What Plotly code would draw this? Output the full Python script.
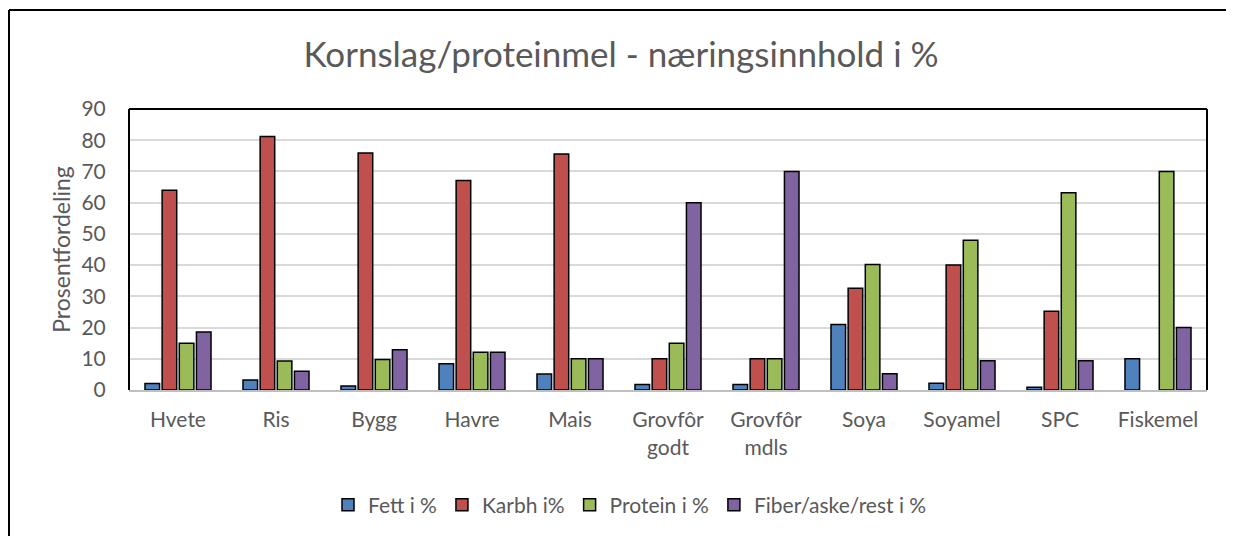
import plotly.graph_objects as go

categories = ["Hvete", "Ris", "Bygg", "Havre", "Mais", "Grovfôr<br>godt", "Grovfôr<br>mdls",
              "Soya", "Soyamel", "SPC", "Fiskemel"]
fett = [2.1, 3.2, 1.3, 8.4, 5.1, 1.8, 1.8, 21.0, 2.2, 0.9, 10.0]
karbh = [64.0, 81.2, 75.9, 67.1, 75.6, 10.0, 10.0, 32.6, 40.0, 25.2, None]
protein = [15.0, 9.3, 9.8, 12.1, 10.0, 15.0, 10.0, 40.2, 48.0, 63.2, 70.0]
fiber = [18.6, 6.0, 12.9, 12.1, 10.0, 60.0, 70.0, 5.2, 9.4, 9.4, 20.0]

series_names = ["Fett i %", "Karbh i%", "Protein i %", "Fiber/aske/rest i %"]
series_values = [fett, karbh, protein, fiber]
colors = ["#4F81BD", "#C0504D", "#9BBB59", "#8064A2"]

FONT = "Lato, Open Sans, sans-serif"
GREY = "#595959"

fig = go.Figure()
for name, vals, col in zip(series_names, series_values, colors):
    fig.add_trace(go.Bar(
        x=categories, y=vals, name=name,
        marker=dict(color=col, line=dict(color="black", width=1.5)),
    ))

# page has an 8px body margin -> work in figure coordinates (screen - 8)
OFF = 8
W, H = 1234 - OFF, 536 - OFF
L, R, T, B = 129 - OFF, 1207 - OFF, 109 - OFF, 390 - OFF
pw, ph = R - L, B - T

def px_x(p):
    return (p - OFF - L) / pw

def px_y(p):
    return (B - (p - OFF)) / ph

shapes = [
    dict(type="line", xref="paper", yref="paper", x0=0, x1=0, y0=0, y1=1, line=dict(color="black", width=2)),
    dict(type="line", xref="paper", yref="paper", x0=0, x1=1, y0=1, y1=1, line=dict(color="black", width=2)),
    dict(type="line", xref="paper", yref="paper", x0=1, x1=1, y0=0, y1=1, line=dict(color="black", width=2)),
    dict(type="line", xref="paper", yref="paper", x0=px_x(9), x1=px_x(9), y0=px_y(560), y1=px_y(10),
         line=dict(color="black", width=2)),
    dict(type="line", xref="paper", yref="paper", x0=px_x(9), x1=px_x(1260), y0=px_y(10), y1=px_y(10),
         line=dict(color="black", width=2)),
]

fig.update_layout(
    width=W, height=H,
    margin=dict(l=L, r=W - R, t=T, b=H - B, autoexpand=False),
    paper_bgcolor="white", plot_bgcolor="white",
    font=dict(family=FONT, color=GREY, size=21),
    title=dict(text="Kornslag/proteinmel - næringsinnhold i %", x=(621 - OFF) / W, xref="container",
               y=(H - (55 - OFF)) / H, yref="container", xanchor="center", yanchor="middle",
               font=dict(family=FONT, size=35, color=GREY)),
    barmode="group", bargap=0.3, bargroupgap=0.15,
    showlegend=True,
    legend=dict(orientation="h", xref="container", yref="container", x=(630 - OFF) / W,
                y=(H - (505 - OFF)) / H,
                xanchor="center", yanchor="middle", font=dict(family=FONT, size=21, color=GREY),
                itemwidth=30, traceorder="normal"),
    shapes=shapes,
)
fig.update_xaxes(showline=True, linecolor="#BFBFBF", linewidth=2, showgrid=False,
                 ticks="outside", ticklen=10, tickcolor="rgba(0,0,0,0)",
                 tickfont=dict(family=FONT, size=21, color=GREY))
fig.update_yaxes(range=[0, 90], dtick=10, showgrid=True, gridcolor="#D9D9D9", gridwidth=2,
                 zeroline=False, showline=False,
                 ticks="outside", ticklen=18, tickcolor="rgba(0,0,0,0)",
                 tickfont=dict(family=FONT, size=21, color=GREY),
                 title=dict(text="Prosentfordeling", standoff=4,
                            font=dict(family=FONT, size=23, color=GREY)))

fig.write_html("out.html")
